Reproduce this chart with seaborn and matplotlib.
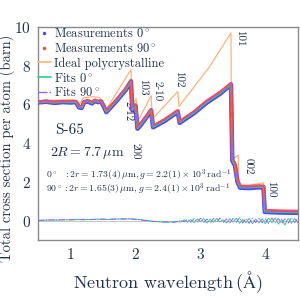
import matplotlib
matplotlib.use("Agg")
import matplotlib.pyplot as plt
from matplotlib.lines import Line2D
import numpy as np
import pandas as pd
import seaborn as sns

meas_x = [0.50, 0.62, 0.75, 0.88, 1.00, 1.08, 1.13, 1.17, 1.21, 1.27, 1.33, 1.37,
          1.42, 1.47, 1.51, 1.55, 1.70, 1.85, 1.93, 1.95, 2.00, 2.03, 2.06, 2.15,
          2.24, 2.27, 2.45, 2.65, 2.68, 2.90, 3.10, 3.30, 3.47, 3.49, 3.53, 3.57,
          3.61, 3.75, 3.90, 3.97, 3.99, 4.20, 4.50]
meas0_y = [6.10, 6.14, 6.08, 6.12, 6.10, 6.12, 5.85, 5.82, 6.12, 6.15, 6.05, 6.18,
           6.12, 6.15, 5.90, 5.60, 6.15, 6.75, 7.18, 5.70, 5.92, 4.75, 4.85, 5.25,
           5.68, 4.82, 5.15, 5.62, 5.05, 5.55, 6.10, 6.55, 7.02, 3.10, 2.85, 2.00,
           1.70, 1.68, 1.72, 1.70, 0.45, 0.42, 0.40]
meas90_y = [6.13, 6.16, 6.12, 6.15, 6.14, 6.16, 5.90, 5.86, 6.15, 6.20, 6.10, 6.22,
            6.16, 6.18, 5.95, 5.66, 6.20, 6.82, 7.24, 5.76, 5.98, 4.82, 4.92, 5.32,
            5.74, 4.88, 5.22, 5.68, 5.12, 5.62, 6.18, 6.62, 7.08, 3.18, 2.92, 2.08,
            1.78, 1.76, 1.80, 1.78, 0.52, 0.50, 0.48]

# ideal polycrystalline
ideal_x = [0.50, 1.05, 1.12, 1.20, 1.35, 1.45, 1.55, 1.93, 1.95, 2.01, 2.03, 2.24,
           2.26, 2.65, 2.67, 3.14, 3.47, 3.48, 3.58, 3.59, 3.97, 3.98, 4.50]
ideal_y = [6.20, 6.25, 5.95, 6.35, 6.40, 6.35, 5.75, 7.80, 5.95, 6.30, 5.10, 6.45,
           5.25, 6.67, 5.90, 7.95, 9.70, 3.15, 3.38, 1.75, 1.95, 0.45, 0.45]

# residuals (measurement - fit)
res_x = [0.50, 0.60, 0.70, 0.80, 0.90, 1.00, 1.10, 1.20, 1.30, 1.40, 1.50, 1.60,
         1.70, 1.80, 1.90, 2.00, 2.10, 2.20, 2.30, 2.40, 2.50, 2.60, 2.70, 2.75,
         2.80, 2.85, 2.90, 2.95, 3.00, 3.05, 3.10, 3.15, 3.20, 3.25, 3.30, 3.35,
         3.40, 3.45, 3.50, 3.55, 3.60, 3.65, 3.70, 3.75, 3.80, 3.85, 3.90, 3.95,
         4.00, 4.05, 4.10, 4.15, 4.20, 4.25, 4.30, 4.35, 4.40, 4.45, 4.50]
res0_y = [0.00, 0.02, 0.04, 0.02, 0.05, 0.03, 0.06, 0.04, 0.06, 0.08, 0.05, 0.07,
          0.09, 0.07, 0.10, 0.08, 0.04, 0.00, -0.04, -0.06, -0.09, -0.04, -0.07, 0.04,
          -0.08, 0.06, -0.10, 0.09, -0.06, 0.10, -0.12, 0.08, -0.09, 0.12, -0.07, 0.05,
          -0.12, 0.10, -0.08, 0.13, -0.14, 0.06, -0.10, 0.12, -0.15, 0.08, -0.12, 0.10,
          -0.16, 0.12, -0.10, 0.14, -0.18, 0.08, -0.22, 0.12, -0.14, 0.10, -0.12]
res90_y = [0.02, 0.03, 0.03, 0.05, 0.04, 0.06, 0.05, 0.07, 0.05, 0.07, 0.09, 0.06,
           0.08, 0.10, 0.08, 0.06, 0.02, -0.02, -0.05, -0.08, -0.05, -0.09, 0.02, -0.06,
           0.07, -0.08, 0.10, -0.07, 0.12, -0.10, 0.08, -0.12, 0.11, -0.08, 0.13, -0.10,
           0.09, -0.13, 0.11, -0.09, 0.14, -0.12, 0.10, -0.14, 0.12, -0.10, 0.15, -0.12,
           0.10, -0.15, 0.14, -0.11, 0.12, -0.16, 0.10, -0.13, 0.15, -0.10, 0.12]

# Bragg edge labels
hkl_labels = ["2-12", "200", "103", "2-10", "102", "101", "002", "100"]
hkl_x = [1.89, 2.00, 2.12, 2.33, 2.66, 3.61, 3.73, 4.08]
hkl_y = [5.65, 3.60, 6.90, 6.70, 7.30, 9.40, 2.80, 1.60]

TXT = "#22304f"
BLUE = "#4a4aff"
RED = "#ff4a3a"
ORANGE = "#ffb27a"
GREEN = "#2ecc9a"
PURPLE = "#a45cf5"

sns.set_theme(style="white")
plt.rcParams["font.family"] = ["cmr10", "DejaVu Serif"]
plt.rcParams["mathtext.fontset"] = "cm"
plt.rcParams["axes.formatter.use_mathtext"] = True

fig = plt.figure(figsize=(3, 3), dpi=100)
ax = fig.add_axes([0.127, 0.2, 0.866, 0.71])

meas = pd.DataFrame({"x": meas_x, "m0": meas0_y, "m90": meas90_y})
res = pd.DataFrame({"x": res_x, "r0": res0_y, "r90": res90_y})

ax.axhline(0, color="#bbbbbb", lw=0.6, zorder=1)
sns.lineplot(x=ideal_x, y=ideal_y, ax=ax, color=ORANGE, lw=0.9, zorder=2)
sns.lineplot(data=meas, x="x", y="m0", ax=ax, color=BLUE, lw=3.2, zorder=3)
sns.lineplot(data=meas, x="x", y="m90", ax=ax, color=RED, lw=2.4, alpha=0.9, zorder=4)
sns.lineplot(data=meas, x="x", y="m0", ax=ax, color=GREEN, lw=0.7, zorder=5)
sns.lineplot(data=meas, x="x", y="m90", ax=ax, color=PURPLE, lw=0.7, ls="-.", zorder=5)
sns.lineplot(data=res, x="x", y="r0", ax=ax, color=GREEN, lw=0.7, zorder=5)
sns.lineplot(data=res, x="x", y="r90", ax=ax, color=PURPLE, lw=0.7, ls="-.", zorder=5)

ax.set_xlim(0.5, 4.5)
ax.set_ylim(-1, 10)
ax.set_xticks([1, 2, 3, 4])
ax.set_yticks([0, 2, 4, 6, 8, 10])
ax.tick_params(labelsize=11, labelcolor=TXT, length=0, pad=5)
for s in ax.spines.values():
    s.set_color("#8a8a8a")
    s.set_linewidth(1.0)
ax.set_xlabel(r"Neutron wavelength$\,(\mathrm{\AA})$", fontsize=13, color=TXT, labelpad=5)
ax.set_ylabel("Total cross section per atom (barn)", fontsize=10.5, color=TXT)
ax.yaxis.set_label_coords(-0.088, 0.43)

for lab, lx, ly in zip(hkl_labels, hkl_x, hkl_y):
    ax.text(lx, ly, lab, rotation=-90, fontsize=8, color=TXT, ha="center", va="center")

ax.text(0.99, 4.65, "S-65", fontsize=11, color=TXT, ha="center", va="center")
ax.text(0.69, 3.5, r"$2R = 7.7\,\mu\mathrm{m}$", fontsize=10, color=TXT, ha="left", va="center")
ax.text(0.62, 2.35, r"$0^\circ\;\;\,: 2r = 1.73(4)\,\mu\mathrm{m}, g = 2.2(1)\times 10^3\,\mathrm{rad}^{-1}$",
        fontsize=7, color=TXT, ha="left", va="center")
ax.text(0.62, 1.6, r"$90^\circ: 2r = 1.65(3)\,\mu\mathrm{m}, g = 2.4(1)\times 10^3\,\mathrm{rad}^{-1}$",
        fontsize=7, color=TXT, ha="left", va="center")

handles = [
    Line2D([], [], ls="none", marker=".", ms=3, color=BLUE),
    Line2D([], [], ls="none", marker=".", ms=3, color=RED),
    Line2D([], [], color=ORANGE, lw=1.2),
    Line2D([], [], color=GREEN, lw=1.2),
    Line2D([], [], color=PURPLE, lw=1.0, ls="-."),
]
labels = [r"Measurements 0$^\circ$", r"Measurements 90$^\circ$", "Ideal polycrystalline",
          r"Fits 0$^\circ$", r"Fits 90$^\circ$"]
ax.legend(handles, labels, loc="upper left", bbox_to_anchor=(-0.01, 1.01), frameon=False,
          fontsize=9, handlelength=1.0, handletextpad=0.3, borderaxespad=0.0, borderpad=0.2,
          labelspacing=0.15, labelcolor=TXT)

fig.savefig("out.png", dpi=100)
